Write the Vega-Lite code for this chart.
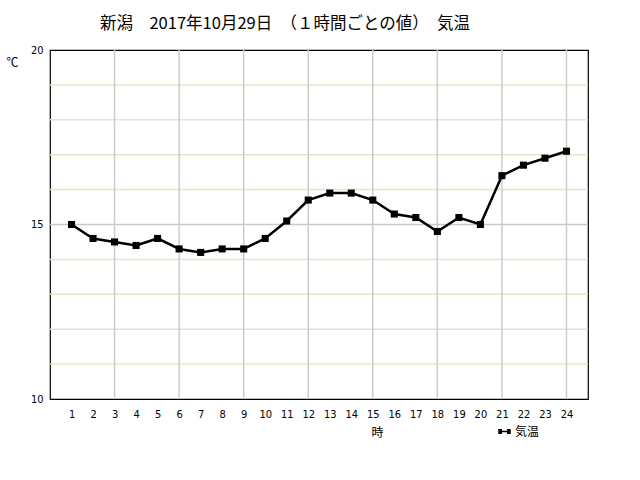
{
  "$schema": "https://vega.github.io/schema/vega-lite/v6.json",
  "autosize": {"type": "none"},
  "padding": {"left": 50, "top": 50, "right": 52, "bottom": 81},
  "width": 538,
  "height": 349,
  "background": "white",
  "config": {
    "view": {"stroke": "black", "strokeWidth": 1.2},
    "font": "Noto Sans CJK JP",
    "axis": {"labelOverlap": false},
    "axisX": {
      "labelOverlap": false, "grid": false, "ticks": false, "domain": false,
      "labelPadding": 9, "labelFontSize": 11, "labelColor": "black", "labelFont": "DejaVu Sans Condensed",
      "titleFontSize": 12, "titleFontWeight": "normal", "titleColor": "black"
    },
    "axisY": {
      "grid": false, "ticks": false, "domain": false,
      "labelPadding": 7, "labelFontSize": 11, "labelColor": "black", "labelFont": "DejaVu Sans Condensed",
      "titleFontSize": 12, "titleFontWeight": "normal", "titleColor": "black"
    }
  },
  "title": {
    "text": "新潟　2017年10月29日　（１時間ごとの値）　気温",
    "anchor": "middle",
    "frame": "group",
    "dx": -34,
    "offset": 12,
    "fontSize": 16.5,
    "fontWeight": "normal",
    "font": "Noto Sans CJK JP",
    "color": "black"
  },
  "datasets": {
    "temps": [
      {"hour": 1, "temp": 15.0, "series": "気温"},
      {"hour": 2, "temp": 14.6, "series": "気温"},
      {"hour": 3, "temp": 14.5, "series": "気温"},
      {"hour": 4, "temp": 14.4, "series": "気温"},
      {"hour": 5, "temp": 14.6, "series": "気温"},
      {"hour": 6, "temp": 14.3, "series": "気温"},
      {"hour": 7, "temp": 14.2, "series": "気温"},
      {"hour": 8, "temp": 14.3, "series": "気温"},
      {"hour": 9, "temp": 14.3, "series": "気温"},
      {"hour": 10, "temp": 14.6, "series": "気温"},
      {"hour": 11, "temp": 15.1, "series": "気温"},
      {"hour": 12, "temp": 15.7, "series": "気温"},
      {"hour": 13, "temp": 15.9, "series": "気温"},
      {"hour": 14, "temp": 15.9, "series": "気温"},
      {"hour": 15, "temp": 15.7, "series": "気温"},
      {"hour": 16, "temp": 15.3, "series": "気温"},
      {"hour": 17, "temp": 15.2, "series": "気温"},
      {"hour": 18, "temp": 14.8, "series": "気温"},
      {"hour": 19, "temp": 15.2, "series": "気温"},
      {"hour": 20, "temp": 15.0, "series": "気温"},
      {"hour": 21, "temp": 16.4, "series": "気温"},
      {"hour": 22, "temp": 16.7, "series": "気温"},
      {"hour": 23, "temp": 16.9, "series": "気温"},
      {"hour": 24, "temp": 17.1, "series": "気温"}
    ],
    "hgrid": [
      {"temp": 11}, {"temp": 12}, {"temp": 13}, {"temp": 14}, {"temp": 16}, {"temp": 17}, {"temp": 18}, {"temp": 19}
    ],
    "hgrid15": [{"temp": 15}],
    "vgrid": [
      {"hour": 3}, {"hour": 6}, {"hour": 9}, {"hour": 12}, {"hour": 15}, {"hour": 18}, {"hour": 21}, {"hour": 24}
    ]
  },
  "layer": [
    {
      "data": {"name": "hgrid"},
      "mark": {"type": "rule", "color": "#e8e4c8", "strokeWidth": 1.5},
      "encoding": {
        "y": {
          "field": "temp", "type": "quantitative",
          "scale": {"domain": [10, 20], "nice": false, "zero": false},
          "axis": {
            "values": [10, 15, 20], "labelOverlap": false,
            "title": "℃", "titleAngle": 0,
            "titleX": -38, "titleY": 12, "titleAlign": "center", "titleBaseline": "middle"
          }
        }
      }
    },
    {
      "data": {"name": "hgrid15"},
      "mark": {"type": "rule", "color": "#c8c8c8", "strokeWidth": 1.5},
      "encoding": {
        "y": {"field": "temp", "type": "quantitative"}
      }
    },
    {
      "data": {"name": "vgrid"},
      "mark": {"type": "rule", "color": "#cccccc", "strokeWidth": 1.5},
      "encoding": {
        "x": {
          "field": "hour", "type": "quantitative",
          "scale": {"domain": [0, 25], "nice": false},
          "axis": {
            "values": [1,2,3,4,5,6,7,8,9,10,11,12,13,14,15,16,17,18,19,20,21,22,23,24],
            "tickCount": 25,
            "format": "d", "labelOverlap": false,
            "title": "時", "titleX": 327, "titleY": 28, "titleAnchor": "start", "titleAlign": "center"
          }
        }
      }
    },
    {
      "data": {"name": "temps"},
      "mark": {"type": "line", "color": "black", "strokeWidth": 2.5, "point": {"shape": "square", "size": 50, "filled": true, "color": "black", "opacity": 1}},
      "encoding": {
        "x": {"field": "hour", "type": "quantitative"},
        "y": {"field": "temp", "type": "quantitative"},
        "color": {
          "field": "series", "type": "nominal",
          "scale": {"domain": ["気温"], "range": ["black"]},
          "legend": {
            "orient": "none", "legendX": 448, "legendY": 375,
            "title": null,
            "symbolType": "M-1,-0.3H-0.6V0.3H-1Z M-0.6,0H0.6 M0.6,-0.3H1V0.3H0.6Z",
            "symbolSize": 120, "symbolStrokeWidth": 1.5, "symbolStrokeColor": "black", "symbolFillColor": "black",
            "labelFontSize": 12, "labelColor": "black", "labelFont": "Noto Sans CJK JP"
          }
        }
      }
    }
  ]
}
